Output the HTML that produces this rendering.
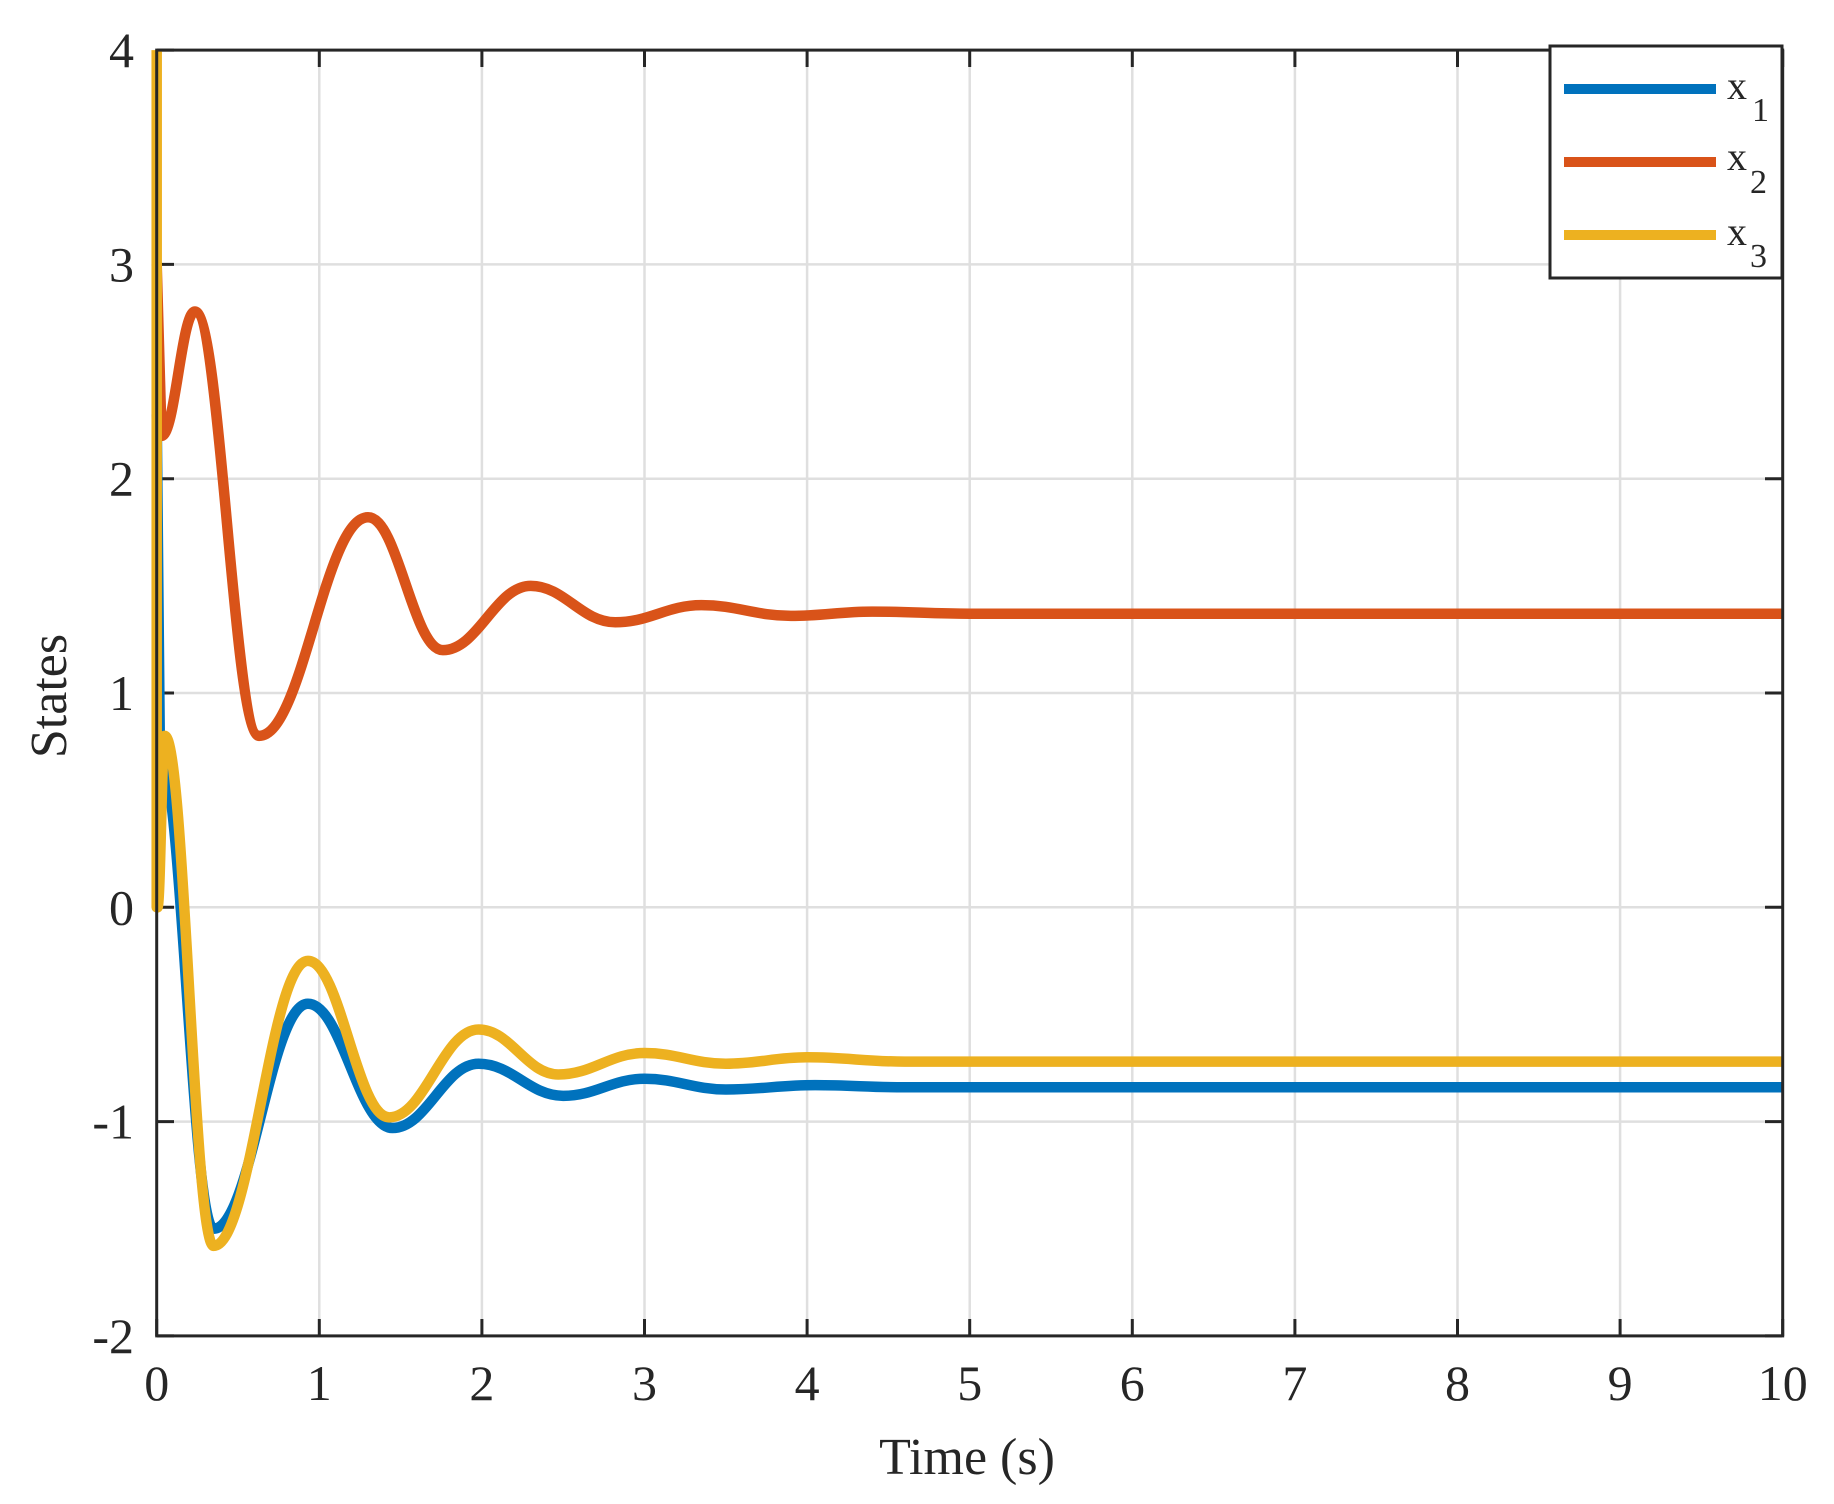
<!DOCTYPE html>
<html><head><meta charset="utf-8"><style>
html,body{margin:0;padding:0;background:#fff;}
svg{display:block;}
text{font-family:"Liberation Serif",serif;fill:#262626;}
</style></head><body>
<svg id="s" width="1834" height="1504" viewBox="0 0 1834 1504" xmlns="http://www.w3.org/2000/svg">
<rect width="1834" height="1504" fill="#fff"/>
<g id="grid" stroke="#dfdfdf" stroke-width="2.5"></g>
<g id="ticks" stroke="#262626" stroke-width="3"></g>
<g id="lab" font-size="50"></g>
<g id="curves" fill="none" stroke-width="10.5" stroke-linejoin="round" stroke-linecap="butt"></g>
<rect x="156.7" y="50.1" width="1626" height="1285.8" fill="none" stroke="#262626" stroke-width="3"/>
<text x="967" y="1474" font-size="52" text-anchor="middle">Time  (s)</text>
<text transform="translate(66,696) rotate(-90)" font-size="52" text-anchor="middle">States</text>
<rect x="1550" y="46" width="232" height="232" fill="#fff" stroke="#262626" stroke-width="3"/>
<line x1="1564" y1="89" x2="1716" y2="89" stroke="#0072bd" stroke-width="10"/>
<line x1="1564" y1="162" x2="1716" y2="162" stroke="#d95319" stroke-width="10"/>
<line x1="1564" y1="235" x2="1716" y2="235" stroke="#edb120" stroke-width="10"/>
<text x="1727" y="99" font-size="40" fill="#000">x</text><text x="1752" y="121" font-size="34" fill="#000">1</text>
<text x="1727" y="170" font-size="40" fill="#000">x</text><text x="1750" y="193" font-size="34" fill="#000">2</text>
<text x="1727" y="245" font-size="40" fill="#000">x</text><text x="1750" y="267" font-size="34" fill="#000">3</text>
</svg>
<script>
var X=function(t){return 156.7+162.6*t;},Y=function(v){return 907.3-214.3*v;};
var ns="http://www.w3.org/2000/svg";
function el(p,tag,a,txt){var e=document.createElementNS(ns,tag);for(var k in a)e.setAttribute(k,a[k]);if(txt!==undefined)e.textContent=txt;document.getElementById(p).appendChild(e);}
for(var i=1;i<10;i++){el('grid','line',{x1:X(i),y1:50,x2:X(i),y2:1336});}
for(var v=-1;v<4;v++){el('grid','line',{x1:157,y1:Y(v),x2:1782,y2:Y(v)});}
for(var i=0;i<=10;i++){el('ticks','line',{x1:X(i),y1:1336,x2:X(i),y2:1319});el('ticks','line',{x1:X(i),y1:50,x2:X(i),y2:67});
 el('lab','text',{x:X(i),y:1400,'text-anchor':'middle'},String(i));}
for(var v=-2;v<=4;v++){el('ticks','line',{x1:157,y1:Y(v),x2:174,y2:Y(v)});el('ticks','line',{x1:1782,y1:Y(v),x2:1765,y2:Y(v)});
 el('lab','text',{x:134,y:Y(v)+17,'text-anchor':'end'},String(v));}
function path(pre,ext,col){
 var d='M'+X(pre[0][0])+','+Y(pre[0][1]);
 for(var i=1;i<pre.length;i++)d+=' L'+X(pre[i][0])+','+Y(pre[i][1]);
 for(var i=1;i<ext.length;i++){var a=ext[i-1],b=ext[i];var dd=(b[0]-a[0])*0.4;
  d+=' C'+X(a[0]+dd)+','+Y(a[1])+' '+X(b[0]-dd)+','+Y(b[1])+' '+X(b[0])+','+Y(b[1]);}
 el('curves','path',{d:d,stroke:col});}
path([[0,2.3],[0.02,0.7]],[[0.02,0.7],[0.35,-1.5],[0.93,-0.45],[1.45,-1.03],[1.98,-0.73],[2.5,-0.88],[3.0,-0.8],[3.5,-0.85],[4.05,-0.83],[4.6,-0.84],[10,-0.84]],'#0072bd');
path([[0,3.0],[0.03,2.2]],[[0.03,2.2],[0.235,2.78],[0.63,0.8],[1.3,1.82],[1.76,1.2],[2.3,1.5],[2.82,1.33],[3.35,1.41],[3.9,1.36],[4.4,1.38],[5,1.37],[10,1.37]],'#d95319');
path([[0,4],[0,0],[0.005,0]],[[0.005,0],[0.05,0.8],[0.35,-1.58],[0.93,-0.25],[1.43,-0.98],[1.98,-0.57],[2.47,-0.78],[3.0,-0.68],[3.5,-0.73],[4.0,-0.7],[4.6,-0.72],[10,-0.72]],'#edb120');
</script>
</body></html>
